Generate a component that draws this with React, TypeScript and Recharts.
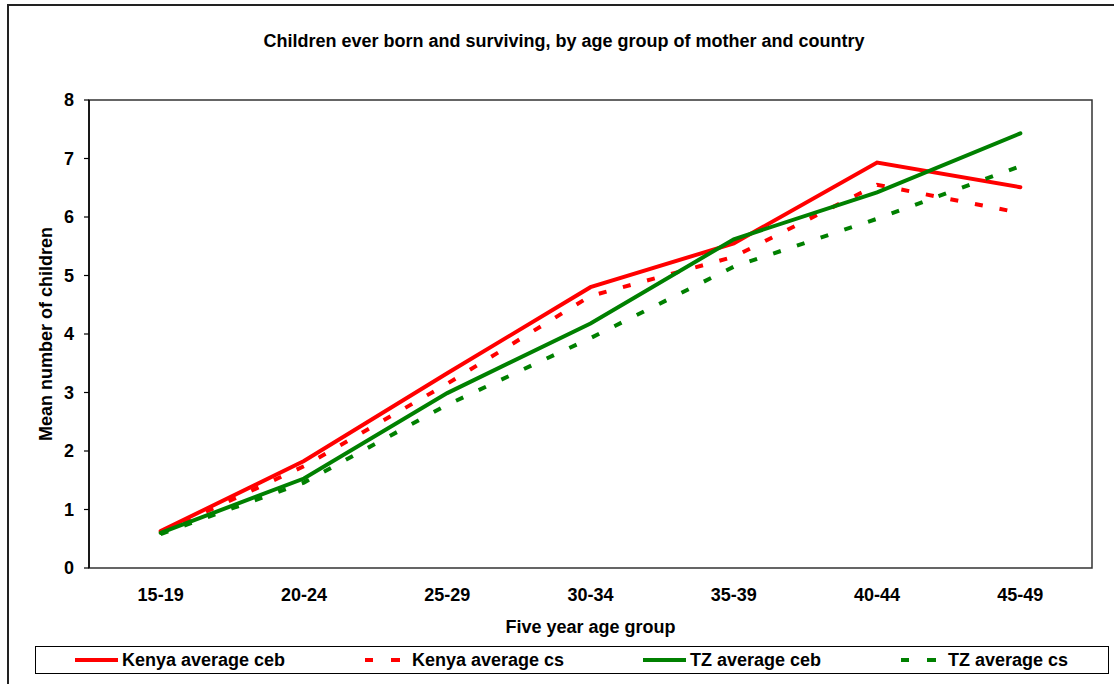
import React from "react";
import { LineChart, Line, XAxis, YAxis, ReferenceArea, Legend } from "recharts";

const FONT = "'Liberation Sans', Arial, sans-serif";

const ageGroups = ["15-19", "20-24", "25-29", "30-34", "35-39", "40-44", "45-49"];
const kenyaCeb = [0.63, 1.83, 3.33, 4.8, 5.55, 6.93, 6.51];
const kenyaCs = [0.6, 1.74, 3.15, 4.65, 5.32, 6.55, 6.07];
const tzCeb = [0.6, 1.53, 2.99, 4.18, 5.62, 6.42, 7.43];
const tzCs = [0.58, 1.46, 2.79, 3.93, 5.15, 5.97, 6.87];
const yTicks = [0, 1, 2, 3, 4, 5, 6, 7, 8];

// categories sit at i + 0.5 so ticks can be drawn on the band edges
const data = ageGroups.map((age, i) => ({
  age,
  pos: i + 0.5,
  kenyaCeb: kenyaCeb[i],
  kenyaCs: kenyaCs[i],
  tzCeb: tzCeb[i],
  tzCs: tzCs[i],
}));
const centers = ageGroups.map((_, i) => i + 0.5);
const edges = [...ageGroups.map((_, i) => i), ageGroups.length];

const series = [
  { key: "kenyaCeb", name: "Kenya average ceb", color: "#FF0000", dash: undefined as string | undefined },
  { key: "kenyaCs", name: "Kenya average cs", color: "#FF0000", dash: "8 17" },
  { key: "tzCeb", name: "TZ average ceb", color: "#008000", dash: undefined },
  { key: "tzCs", name: "TZ average cs", color: "#008000", dash: "8 17" },
];

const legendTextX = [86, 376, 654, 912];

const tickStyle = { fontSize: 18, fontWeight: 700, fill: "#000", fontFamily: FONT };

const renderLegend = () => (
  <div
    style={{
      position: "relative",
      width: 1072,
      height: 26,
      border: "1px solid #000",
      background: "#fff",
      fontFamily: FONT,
      fontSize: 18,
      fontWeight: 700,
      color: "#000",
    }}
  >
    {series.map((s, i) => (
      <div
        key={s.key}
        style={{
          position: "absolute",
          left: legendTextX[i] - 47,
          top: 0,
          height: 26,
          display: "flex",
          alignItems: "center",
          whiteSpace: "nowrap",
        }}
      >
        <svg width={47} height={10} style={{ display: "block" }}>
          <line
            x1={0}
            y1={5}
            x2={43}
            y2={5}
            stroke={s.color}
            strokeWidth={4}
            strokeDasharray={s.dash ? "8 18 9 20" : undefined}
          />
        </svg>
        <span>{s.name}</span>
      </div>
    ))}
  </div>
);

const yLabel = (p: any) => {
  const vb = p.viewBox;
  const cx = vb.x + 23;
  const cy = vb.y + vb.height / 2;
  return (
    <text
      x={cx}
      y={cy}
      transform={`rotate(-90 ${cx} ${cy})`}
      textAnchor="middle"
      fontSize={18}
      fontWeight={700}
      fontFamily={FONT}
      fill="#000"
    >
      Mean number of children
    </text>
  );
};

const xLabel = (p: any) => {
  const vb = p.viewBox;
  return (
    <text
      x={vb.x + vb.width / 2}
      y={vb.y + 65}
      textAnchor="middle"
      fontSize={18}
      fontWeight={700}
      fontFamily={FONT}
      fill="#000"
    >
      Five year age group
    </text>
  );
};

export default function App() {
  return (
    <div style={{ position: "absolute", left: 0, top: 0, width: 1114, height: 684, overflow: "hidden", background: "#fff" }}>
      <div
        style={{
          position: "absolute",
          left: 7,
          top: 4,
          width: 1200,
          height: 800,
          border: "2px solid #222",
        }}
      />
      <div
        style={{
          position: "absolute",
          left: 8,
          top: 31,
          width: 1112,
          lineHeight: "20px",
          textAlign: "center",
          fontFamily: FONT,
          fontSize: 18,
          fontWeight: 700,
          color: "#000",
        }}
      >
        Children ever born and surviving, by age group of mother and country
      </div>
      <div style={{ position: "absolute", left: 0, top: 0 }}>
        <LineChart width={1114} height={684} data={data} margin={{ top: 100, right: 22, left: 29, bottom: 36 }}>
          <XAxis
            xAxisId="edges"
            type="number"
            dataKey="pos"
            domain={[0, 7]}
            ticks={edges}
            allowDataOverflow
            height={0}
            tickSize={6}
            tickFormatter={() => ""}
            axisLine={{ stroke: "#000", strokeWidth: 1.5 }}
            tickLine={{ stroke: "#000", strokeWidth: 1.2 }}
          />
          <XAxis
            xAxisId="lab"
            type="number"
            dataKey="pos"
            domain={[0, 7]}
            ticks={centers}
            allowDataOverflow
            height={80}
            tickSize={0}
            tickMargin={20}
            axisLine={false}
            tickLine={false}
            tick={tickStyle}
            tickFormatter={(v: number) => ageGroups[Math.floor(v)]}
            label={xLabel}
          />
          <YAxis
            type="number"
            domain={[0, 8]}
            ticks={yTicks}
            width={60}
            tickSize={5}
            tickMargin={10}
            interval={0}
            tick={tickStyle}
            axisLine={{ stroke: "#000", strokeWidth: 1.5 }}
            tickLine={{ stroke: "#000", strokeWidth: 1.2 }}
            label={yLabel}
          />
          <ReferenceArea
            xAxisId="lab"
            x1={0}
            x2={7}
            y1={0}
            y2={8}
            fill="none"
            fillOpacity={0}
            stroke="#333"
            strokeWidth={1.5}
            ifOverflow="visible"
          />
          {series.map((s) => (
            <Line
              key={s.key}
              xAxisId="lab"
              type="linear"
              dataKey={s.key}
              name={s.name}
              stroke={s.color}
              strokeWidth={4}
              strokeDasharray={s.dash}
              strokeLinecap={s.dash ? "butt" : "round"}
              dot={false}
              activeDot={false}
              isAnimationActive={false}
            />
          ))}
          <Legend
            layout="horizontal"
            verticalAlign="middle"
            align="center"
            content={renderLegend}
            wrapperStyle={{ position: "absolute", left: 35, top: 646, width: 1074, height: 28 }}
          />
        </LineChart>
      </div>
    </div>
  );
}
